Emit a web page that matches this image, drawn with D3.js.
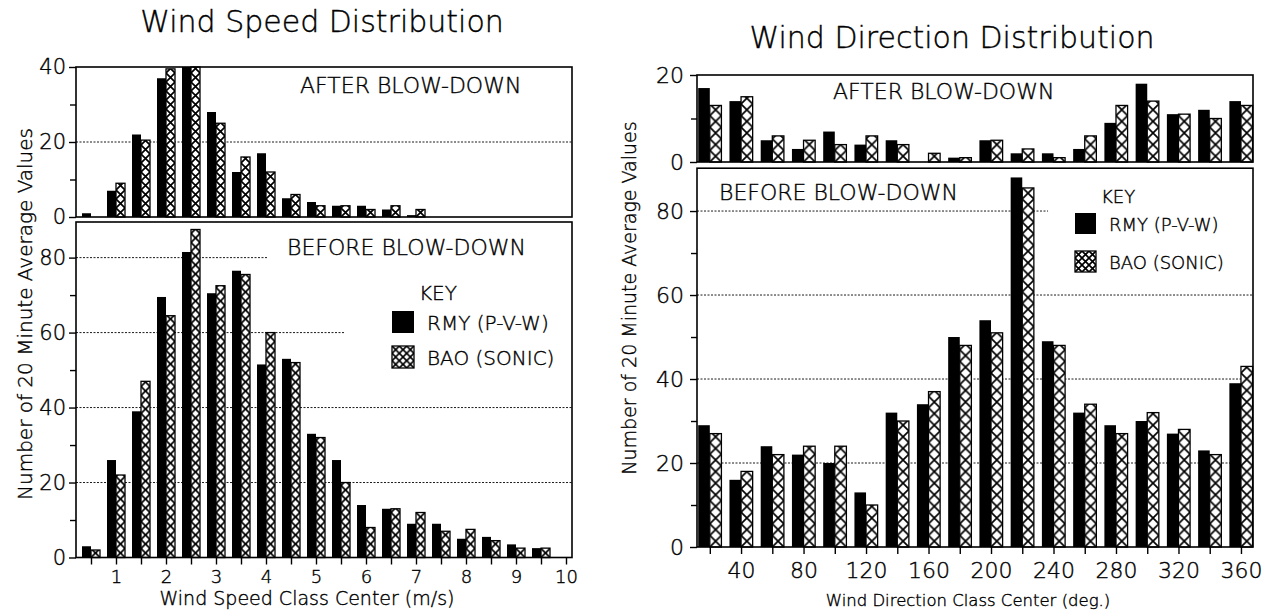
<!doctype html>
<html>
<head>
<meta charset="utf-8">
<script src="https://cdnjs.cloudflare.com/ajax/libs/d3/7.8.5/d3.min.js"></script>
<style>
  body { margin: 0; background: #fff; }
  svg { font-family: "DejaVu Sans", sans-serif; font-weight: 200; }
  svg text { stroke: #000; stroke-width: 0.4; }
  .grid { stroke: #000; stroke-width: 0.9; stroke-dasharray: 2,1.5; }
  .frame { fill: none; stroke: #000; stroke-width: 1.6; }
</style>
</head>
<body>
<svg width="1271" height="615"></svg>
<script>
  // wind speed (m/s) classes and counts
  var speedClasses = [0.5, 1, 1.5, 2, 2.5, 3, 3.5, 4, 4.5, 5, 5.5, 6, 6.5, 7, 7.5, 8, 8.5, 9, 9.5];
  var speedAfterRMY = [1, 7, 22, 37, 40, 28, 12, 17, 5, 4, 3, 3, 2, 0.5, 0, 0, 0, 0, 0];
  var speedAfterBAO = [0, 9, 20.5, 39.5, 41, 25, 16, 12, 6, 3, 3, 2, 3, 2, 0, 0, 0, 0, 0];
  var speedBeforeRMY = [3, 26, 39, 69.5, 81.5, 70.5, 76.5, 51.5, 53, 33, 26, 14, 13, 9, 9, 5, 5.5, 3.5, 2.5];
  var speedBeforeBAO = [2, 22, 47, 64.5, 87.5, 72.5, 75.5, 60, 52, 32, 20, 8, 13, 12, 7, 7.5, 4.5, 2.5, 2.5];
  var speedTicks = [0.5, 1, 1.5, 2, 2.5, 3, 3.5, 4, 4.5, 5, 5.5, 6, 6.5, 7, 7.5, 8, 8.5, 9, 9.5, 10];

  // wind direction (deg) classes and counts
  var dirClasses = [20, 40, 60, 80, 100, 120, 140, 160, 180, 200, 220, 240, 260, 280, 300, 320, 340, 360];
  var dirAfterRMY = [17, 14, 5, 3, 7, 4, 5, 0, 1, 5, 2, 2, 3, 9, 18, 11, 12, 14];
  var dirAfterBAO = [13, 15, 6, 5, 4, 6, 4, 2, 1, 5, 3, 1, 6, 13, 14, 11, 10, 13];
  var dirBeforeRMY = [29, 16, 24, 22, 20, 13, 32, 34, 50, 54, 88, 49, 32, 29, 30, 27, 23, 39];
  var dirBeforeBAO = [27, 18, 22, 24, 24, 10, 30, 37, 48, 51, 85.5, 48, 34, 27, 32, 28, 22, 43];
  var dirTicks = [20, 40, 60, 80, 100, 120, 140, 160, 180, 200, 220, 240, 260, 280, 300, 320, 340, 360];

  var svg = d3.select("svg");
  var defs = svg.append("defs");

  function hatch(id, x, y, size) {
    var p = defs.append("pattern")
      .attr("id", id)
      .attr("patternUnits", "userSpaceOnUse")
      .attr("x", x).attr("y", y)
      .attr("width", size).attr("height", size);
    p.append("rect").attr("width", size).attr("height", size).attr("fill", "#fff");
    p.append("path")
      .attr("d", "M0,0L" + size + "," + size + "M" + size + ",0L0," + size)
      .attr("stroke", "#000").attr("stroke-width", 1.7);
  }

  function bars(name, x, y, classes, rmy, bao, bw) {
    var rows = classes.map(function (c, i) { return { c: c, rmy: rmy[i], bao: bao[i], i: i }; });
    var g = svg.append("g");
    g.selectAll(".rmy")
      .data(rows.filter(function (d) { return d.rmy > 0; }))
      .join("rect")
      .attr("x", function (d) { return x(d.c) - bw; })
      .attr("y", function (d) { return y(d.rmy); })
      .attr("width", bw)
      .attr("height", function (d) { return y(0) - y(d.rmy); })
      .attr("fill", "#000");
    var hb = rows.filter(function (d) { return d.bao > 0; });
    hb.forEach(function (d) { hatch(name + d.i, x(d.c), y(0), bw); });
    g.selectAll(".bao")
      .data(hb)
      .join("rect")
      .attr("x", function (d) { return x(d.c); })
      .attr("y", function (d) { return y(d.bao); })
      .attr("width", bw)
      .attr("height", function (d) { return y(0) - y(d.bao); })
      .attr("fill", function (d) { return "url(#" + name + d.i + ")"; })
      .attr("stroke", "#000")
      .attr("stroke-width", 1.3);
  }

  function grid(x0, y, lines) {
    svg.append("g").selectAll("line")
      .data(lines)
      .join("line")
      .attr("class", "grid")
      .attr("x1", x0)
      .attr("x2", function (d) { return d[1]; })
      .attr("y1", function (d) { return y(d[0]); })
      .attr("y2", function (d) { return y(d[0]); });
  }

  function yAxis(x0, y, major, minor, fs, pad) {
    svg.append("g")
      .attr("transform", "translate(" + x0 + ",0)")
      .call(d3.axisLeft(y).tickValues(major).tickSize(7).tickPadding(pad))
      .attr("font-family", "DejaVu Sans").attr("font-size", fs)
      .call(function (g) { g.select(".domain").remove(); })
      .call(function (g) { g.selectAll("line").attr("stroke-width", 1.4); });
    svg.append("g")
      .attr("transform", "translate(" + x0 + ",0)")
      .call(d3.axisLeft(y).tickValues(minor).tickSize(6).tickFormat(""))
      .call(function (g) { g.select(".domain").remove(); })
      .call(function (g) { g.selectAll("line").attr("stroke-width", 1.4); });
  }

  function frame(x, yTop, yBot) {
    svg.append("rect").attr("class", "frame")
      .attr("x", x.range()[0]).attr("y", yTop)
      .attr("width", x.range()[1] - x.range()[0]).attr("height", yBot - yTop);
  }

  function label(txt, x, y, fs, anchor, rot) {
    var t = svg.append("text").text(txt)
      .attr("font-size", fs)
      .attr("text-anchor", anchor || "start")
      .attr("fill", "#000");
    if (rot) t.attr("transform", "translate(" + x + "," + y + ") rotate(-90)");
    else t.attr("x", x).attr("y", y);
    return t;
  }

  function legend(x0, yKey, ys, sq, fs, id) {
    label("KEY", x0 + sq + 5, yKey, fs);
    svg.append("rect").attr("x", x0).attr("y", ys[0]).attr("width", sq).attr("height", sq).attr("fill", "#000");
    hatch(id, x0, ys[1], sq / 3);
    svg.append("rect").attr("x", x0).attr("y", ys[1]).attr("width", sq).attr("height", sq)
      .attr("fill", "url(#" + id + ")").attr("stroke", "#000").attr("stroke-width", 1.3);
    label("RMY (P-V-W)", x0 + sq + 13, ys[0] + sq - 3, fs);
    label("BAO (SONIC)", x0 + sq + 13, ys[1] + sq - 3, fs);
  }

  // ---------- Wind speed chart ----------
  var xs = d3.scaleLinear().domain([0.2, 10.12]).range([76, 572]);
  var ysTop = d3.scaleLinear().domain([0, 40]).range([217, 67]).clamp(true);
  var ysBot = d3.scaleLinear().domain([0, 89.5]).range([557.5, 222]);

  grid(76, ysTop, [[20, 572]]);
  grid(76, ysBot, [[80, xs(4.02)], [60, xs(5.58)], [40, 572], [20, 572]]);
  bars("sa", xs, ysTop, speedClasses, speedAfterRMY, speedAfterBAO, 9);
  bars("sb", xs, ysBot, speedClasses, speedBeforeRMY, speedBeforeBAO, 9);
  frame(xs, 67, 217);
  frame(xs, 222, 557.5);
  yAxis(76, ysTop, [0, 20, 40], [10, 30], 21, 3);
  yAxis(76, ysBot, [0, 20, 40, 60, 80], [10, 30, 50, 70], 21, 3);

  svg.append("g")
    .attr("transform", "translate(0,557.5)")
    .call(d3.axisBottom(xs).tickValues(speedTicks).tickSize(7).tickPadding(6)
      .tickFormat(function (d) { return Number.isInteger(d) ? d : ""; }))
    .attr("font-family", "DejaVu Sans").attr("font-size", 18)
    .call(function (g) { g.select(".domain").remove(); })
    .call(function (g) { g.selectAll("line").attr("stroke-width", 1.4); });

  label("Wind Speed Distribution", 322, 32, 30, "middle");
  label("AFTER BLOW-DOWN", 300, 93, 22);
  label("BEFORE BLOW-DOWN", 287, 255, 22);
  label("Wind Speed Class Center (m/s)", 307, 605, 19, "middle");
  label("Number of 20 Minute Average Values", 32, 314, 20, "middle", true);
  legend(392, 300, [311, 346], 22, 20, "legS");

  // ---------- Wind direction chart ----------
  var xd = d3.scaleLinear().domain([11.8, 367.7]).range([697, 1253]);
  var ydTop = d3.scaleLinear().domain([0, 20]).range([162, 75]);
  var ydBot = d3.scaleLinear().domain([0, 90.2]).range([547, 168.2]);

  grid(697, ydBot, [[80, xd(236.5)], [60, 1253], [40, 1253], [20, 1253]]);
  bars("da", xd, ydTop, dirClasses, dirAfterRMY, dirAfterBAO, 11.6);
  bars("db", xd, ydBot, dirClasses, dirBeforeRMY, dirBeforeBAO, 11.6);
  frame(xd, 75, 162);
  frame(xd, 168.2, 547);
  yAxis(697, ydTop, [0, 20], [10], 22, 6);
  yAxis(697, ydBot, [0, 20, 40, 60, 80], [10, 30, 50, 70], 22, 6);

  svg.append("g")
    .attr("transform", "translate(0,547)")
    .call(d3.axisBottom(xd).tickValues(dirTicks).tickSize(7).tickPadding(8)
      .tickFormat(function (d) { return d % 40 === 0 ? d : ""; }))
    .attr("font-family", "DejaVu Sans").attr("font-size", 22)
    .call(function (g) { g.select(".domain").remove(); })
    .call(function (g) { g.selectAll("line").attr("stroke-width", 1.4); });

  label("Wind Direction Distribution", 952, 48, 30, "middle");
  label("AFTER BLOW-DOWN", 833, 99, 22);
  label("BEFORE BLOW-DOWN", 719, 200, 22);
  label("Wind Direction Class Center (deg.)", 968, 606, 16.5, "middle");
  label("Number of 20 Minute Average Values", 636, 298, 19, "middle", true);
  legend(1075, 203, [213, 251], 21, 18, "legD");
</script>
</body>
</html>
